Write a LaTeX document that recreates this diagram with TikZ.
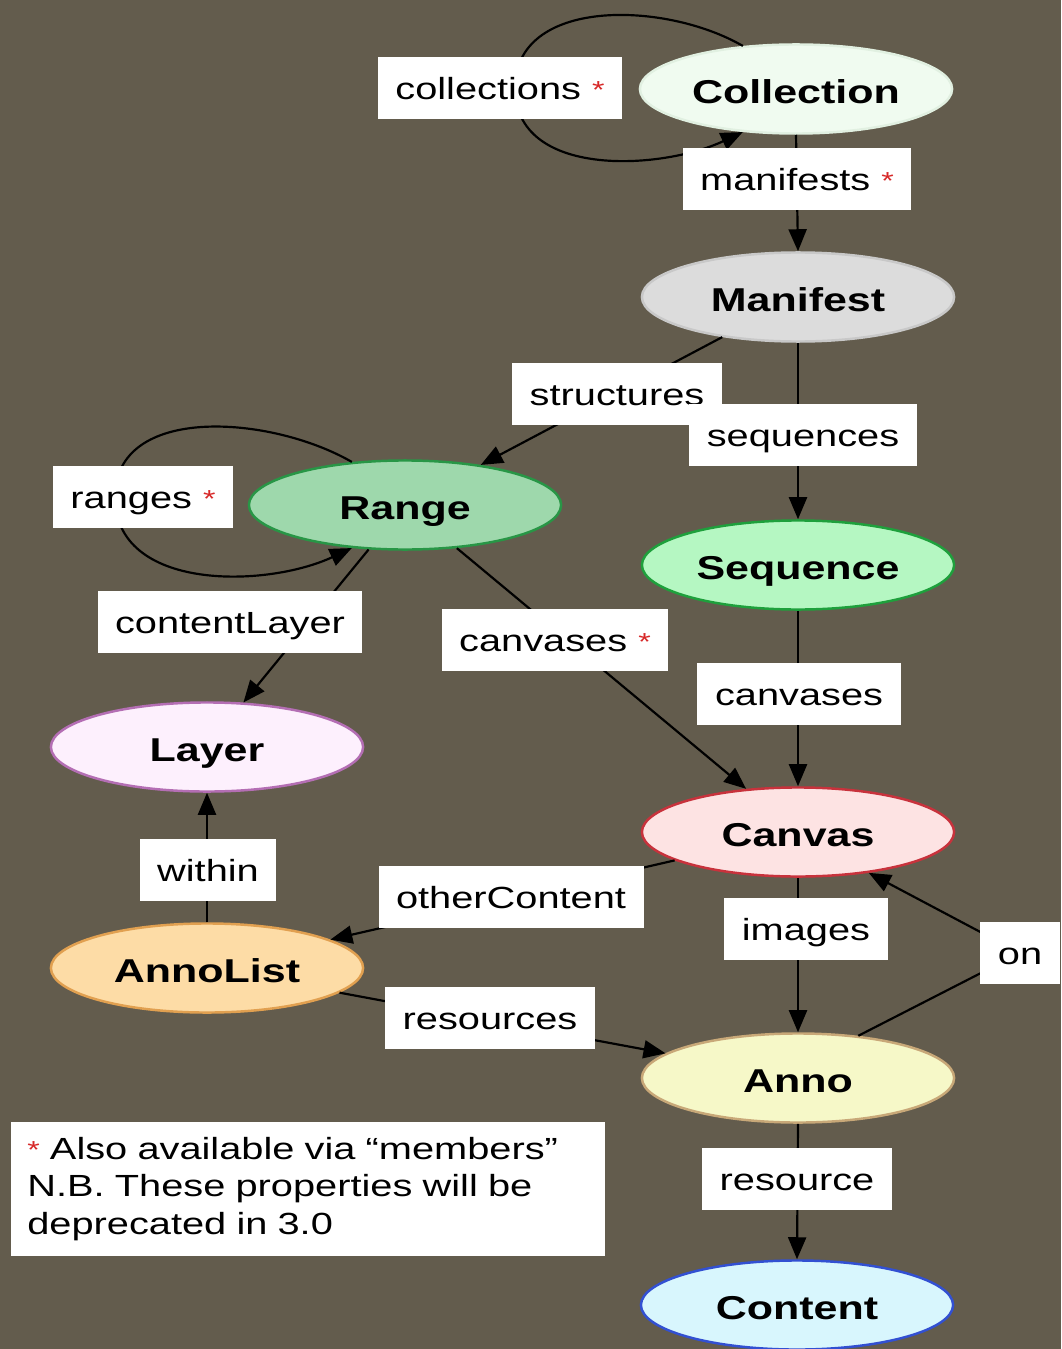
\documentclass[tikz,border=0pt]{standalone}
\usepackage{fontspec}
\setmainfont{Liberation Sans}[FakeStretch=1.3]
\usetikzlibrary{arrows.meta,shapes.geometric}
\definecolor{bg}{RGB}{99,92,77}
\definecolor{reqred}{RGB}{215,40,40}
\definecolor{colfill}{RGB}{240,251,240}\definecolor{colline}{RGB}{225,240,225}
\definecolor{manfill}{RGB}{220,220,220}\definecolor{manline}{RGB}{200,200,200}
\definecolor{rngfill}{RGB}{158,216,172}\definecolor{rngline}{RGB}{40,150,70}
\definecolor{seqfill}{RGB}{181,247,194}\definecolor{seqline}{RGB}{30,160,60}
\definecolor{layfill}{RGB}{253,240,253}\definecolor{layline}{RGB}{180,110,180}
\definecolor{cnvfill}{RGB}{253,227,227}\definecolor{cnvline}{RGB}{200,50,60}
\definecolor{alfill}{RGB}{253,220,166}\definecolor{alline}{RGB}{225,160,80}
\definecolor{annofill}{RGB}{246,248,200}\definecolor{annoline}{RGB}{200,168,120}
\definecolor{cntfill}{RGB}{216,246,253}\definecolor{cntline}{RGB}{50,80,210}
\newcommand{\req}{{\color{reqred}\scriptsize\raisebox{.3pt}{*}}}

\begin{document}
\begin{tikzpicture}[x=.01cm,y=-.01cm,>={Triangle[length=.22cm,width=.18cm]},line width=.62pt,
obj/.style={ellipse,draw,line width=.7pt,minimum width=3.12cm,minimum height=.89cm,inner sep=0pt,text height=9.6pt,text depth=1.6pt,font={\fontsize{9.4}{11}\selectfont\bfseries}},
lbl/.style={fill=white,inner xsep=.175cm,inner ysep=0pt,minimum height=.61cm,text height=9.4pt,text depth=2.6pt,font={\fontsize{8.7}{10}\selectfont}}]
\useasboundingbox(0,0)rectangle(1061,1349);
\fill[bg](0,0)rectangle(1061,1349);
\node[obj,fill=colfill,draw=colline](col)at(796,89){Collection};
\node[obj,fill=manfill,draw=manline](man)at(798,297){Manifest};
\node[obj,fill=rngfill,draw=rngline](rng)at(405,505){Range};
\node[obj,fill=seqfill,draw=seqline](seq)at(798,565){Sequence};
\node[obj,fill=layfill,draw=layline](lay)at(207,747){Layer};
\node[obj,fill=cnvfill,draw=cnvline](cnv)at(798,832){Canvas};
\node[obj,fill=alfill,draw=alline](alist)at(207,968){AnnoList};
\node[obj,fill=annofill,draw=annoline](anno)at(798,1078){Anno};
\node[obj,fill=cntfill,draw=cntline](cnt)at(797,1305){Content};
\coordinate(colloop)at(515,88);\coordinate(rngloop)at(115,497);
\draw[->](col.141)to[out=150,in=90](colloop)to[out=-90,in=205](col.219);
\draw[->](rng.141)to[out=150,in=90](rngloop)to[out=-90,in=205](rng.219);
\draw[->](col.south)--(man.north);
\draw[->](man)--(rng);\draw[->](man.south)--(seq.north);
\draw[->](rng)--(lay);\draw[->](rng)--(cnv);
\draw[->](seq.south)--(cnv.north);
\draw[->](cnv)--(alist);\draw[->](alist.north)--(lay.south);
\draw[->](cnv.south)--(anno.north);\draw[->](alist)--(anno);
\draw[->](anno.south)--(cnt.north);
\node[lbl](collbl)at(500,88){collections\ \req};
\node[lbl](manlbl)at(797,179){manifests\ \req};
\node[lbl](strlbl)at(617,394){structures};
\node[lbl](seqlbl)at(803,435){sequences};
\node[lbl](rnglbl)at(143,497){ranges\ \req};
\node[lbl](laylbl)at(230,622){contentLayer};
\node[lbl](cnvslbl)at(555,640){canvases\ \req};
\node[lbl](cnvlbl)at(799,694){canvases};
\node[lbl](inlbl)at(208,870){within};
\node[lbl](othlbl)at(511,897){otherContent};
\node[lbl](imglbl)at(806,929){images};
\node[lbl](reslbl)at(490,1018){resources};
\node[lbl](rsclbl)at(797,1179){resource};
\draw[->](anno.35)--(1020,953)--(cnv.-30);
\node[lbl](onlbl)at(1020,953){on};
\node[fill=white,text width=5.61cm,inner xsep=.16cm,minimum height=1.34cm,align=left,font={\fontsize{8.7}{10.6}\selectfont}](note)at(308,1189){\req\ Also available via “members”\\N.B. These properties will be\\deprecated in 3.0};
\end{tikzpicture}
\end{document}
